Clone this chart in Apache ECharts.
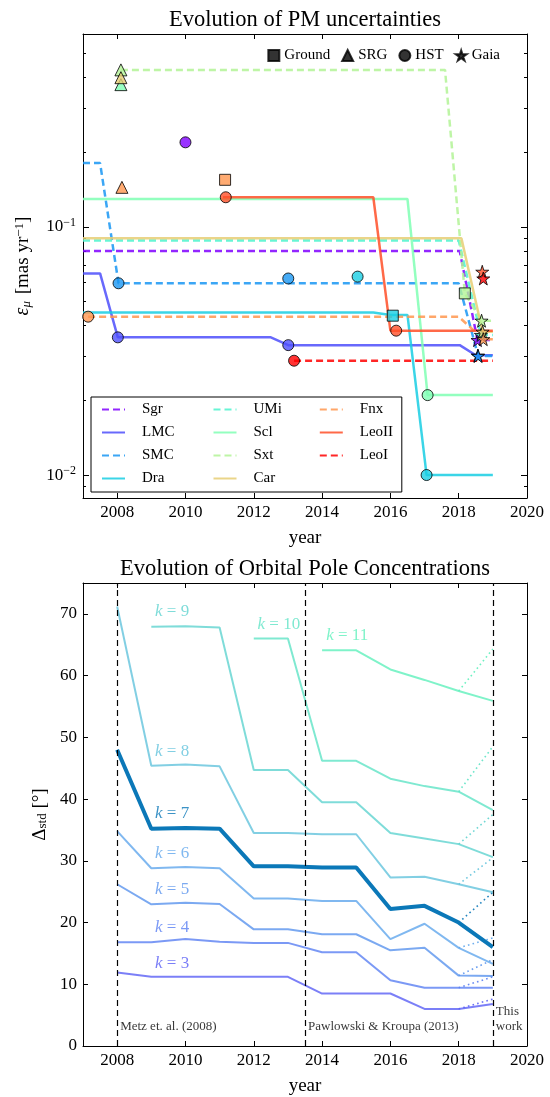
<!DOCTYPE html>
<html><head><meta charset="utf-8">
<script src="https://cdn.jsdelivr.net/npm/echarts@6/dist/echarts.min.js"></script>
<style>html,body{margin:0;padding:0;background:#fff}#c{width:550px;height:1097px}</style>
</head><body><div id="c"></div>
<script>
// ================= DATA: top panel (PM uncertainties, mas/yr) =================
const galaxies = ['Sgr','LMC','SMC','Dra','UMi','Scl','Sxt','Car','Fnx','LeoII','LeoI'];
// best-uncertainty history lines [year, eps]
const pmSgr   = [[2007,0.080],[2018.03,0.080],[2018.55,0.035],[2019,0.035]];
const pmLMC   = [[2007,0.065],[2007.5,0.065],[2008.02,0.0359],[2012.5,0.0359],[2013.01,0.0334],[2018.03,0.0334],[2018.5,0.0304],[2019,0.0304]];
const pmSMC   = [[2007,0.181],[2007.5,0.181],[2008.04,0.0593],[2018.0,0.0593],[2018.57,0.0302],[2019,0.0302]];
const pmDra   = [[2007,0.0452],[2015.5,0.0452],[2016.0,0.0442],[2016.5,0.0442],[2017.06,0.0100],[2019,0.0100]];
const pmUMi   = [[2007,0.0883],[2018.0,0.0883],[2018.65,0.0367],[2019,0.0367]];
const pmScl   = [[2007,0.1297],[2016.5,0.1297],[2017.09,0.0210],[2019,0.0210]];
const pmSxt   = [[2008.11,0.430],[2017.6,0.430],[2018.18,0.054],[2018.67,0.0419],[2019,0.0419]];
const pmCar   = [[2007,0.0900],[2018.08,0.0900],[2018.7,0.0378],[2019,0.0378]];
const pmFnx   = [[2007.15,0.0435],[2018.0,0.0435],[2018.72,0.0353],[2019,0.0353]];
const pmLeoII = [[2011.1,0.1318],[2015.5,0.1318],[2016.0,0.0382],[2019,0.0382]];
const pmLeoI  = [[2013.18,0.0289],[2019,0.0289]];
const pmLines = [pmSgr,pmLMC,pmSMC,pmDra,pmUMi,pmScl,pmSxt,pmCar,pmFnx,pmLeoII,pmLeoI];
const dashedGalaxy = ['Sgr','SMC','UMi','Sxt','Fnx','LeoI'];
// individual measurements [galaxy, year, eps]
const groundPts = [['Dra',2016.07,0.0439],['Sxt',2018.18,0.054],['Fnx',2011.16,0.155]];
const srgPts    = [['Scl',2008.11,0.375],['Sxt',2008.11,0.430],['Car',2008.11,0.400],['Fnx',2008.14,0.1445]];
const hstPts    = [['Sgr',2010.0,0.2195],['LMC',2008.02,0.0359],['LMC',2013.01,0.0334],['SMC',2008.04,0.0593],['SMC',2013.01,0.062],
                   ['Dra',2015.04,0.0631],['Dra',2017.06,0.0100],['Scl',2017.09,0.0210],['Fnx',2007.15,0.0435],
                   ['LeoII',2011.18,0.1318],['LeoII',2016.17,0.0382],['LeoI',2013.18,0.0289]];
const gaiaPts   = [['Sgr',2018.55,0.0350],['LMC',2018.56,0.0303],['SMC',2018.57,0.0302],['UMi',2018.65,0.0367],
                   ['Sxt',2018.67,0.0419],['Car',2018.70,0.0378],['Fnx',2018.72,0.0353],['LeoII',2018.69,0.066],['LeoI',2018.72,0.062]];
const yearTicks = [2008,2010,2012,2014,2016,2018,2020];
const logMajor = [0.01,0.1];
const logMinor = [0.009,0.02,0.03,0.04,0.05,0.06,0.07,0.08,0.09,0.2,0.3,0.4,0.5];

// ================= DATA: bottom panel (orbital pole concentration, deg) =================
const poleYears = [2008,2009,2010,2011,2012,2013,2014,2015,2016,2017,2018,2019];
const kValues = [3,4,5,6,7,8,9,10,11];
const deltaK3  = [11.9,11.2,11.2,11.2,11.2,11.2,8.5,8.5,8.5,6.0,6.0,6.8];
const deltaK4  = [16.8,16.8,17.35,16.9,16.7,16.7,15.2,15.2,10.65,9.45,9.45,9.45];
const deltaK5  = [26.2,22.95,23.2,23.0,18.9,18.9,18.1,18.1,15.5,15.9,11.4,11.35];
const deltaK6  = [34.8,28.8,29.0,28.8,23.9,23.9,23.5,23.5,17.3,19.8,15.9,13.3];
const deltaK7  = [48.0,35.2,35.3,35.2,29.1,29.1,28.9,28.9,22.2,22.7,20.0,16.0];
const deltaK8  = [71.2,45.4,45.6,45.3,34.5,34.5,34.3,34.3,27.3,27.4,26.2,24.9];
const deltaK9  = [null,67.9,68.0,67.8,44.7,44.7,39.5,39.5,34.5,33.6,32.7,30.6];
const deltaK10 = [null,null,null,null,66.0,66.0,46.2,46.2,43.3,42.1,41.2,38.2];
const deltaK11 = [null,null,null,null,null,null,64.1,64.1,61.0,59.3,57.5,55.9];
const deltaAll = [deltaK3,deltaK4,deltaK5,deltaK6,deltaK7,deltaK8,deltaK9,deltaK10,deltaK11];
const alt2019  = [7.6,11.2,14.0,17.5,24.9,30.5,37.5,48.5,64.3];
const refYears = [2008,2013.5,2019];
const refLabels = ['Metz et. al. (2008)','Pawlowski & Kroupa (2013)','This\nwork'];
const poleTicks = [0,10,20,30,40,50,60,70];

// ================= STYLE =================
const FONT = 'Liberation Serif';
const galaxyColors = {Sgr:'#8000ff',LMC:'#4d4ffc',SMC:'#1996f3',Dra:'#19cee3',UMi:'#4df3ce',Scl:'#80ffb4',
  Sxt:'#b3f396',Car:'#e6ce74',Fnx:'#ff964f',LeoII:'#ff4f28',LeoI:'#ff0000'};
const kColors = {3:'#5a5ff5',4:'#5a7ff2',5:'#5a94ee',6:'#60a6ec',7:'#0b78b8',8:'#63c3dc',9:'#5fd3cf',10:'#5fe3c5',11:'#5ff0bb'};
const kLabelPos = {3:[2009.11,13.4],4:[2009.11,19.2],5:[2009.11,25.3],6:[2009.11,31.1],7:[2009.11,37.6],8:[2009.11,47.7],9:[2009.11,70.3],10:[2012.11,68.3],11:[2014.12,66.5]};
const starPath = 'path://M50,0 L61.2,34.5 L97.6,34.5 L68.2,55.9 L79.4,90.5 L50,69.1 L20.6,90.5 L31.8,55.9 L2.4,34.5 L38.8,34.5 Z';

const black = '#000';
function xAx(grid, pos, opts) {
  return Object.assign({
    gridIndex: grid, type: 'value', position: pos, min: 2007, max: 2020,
    axisLine: {show: true, onZero: false, lineStyle: {color: black, width: 1}},
    axisTick: {show: true, inside: true, length: 5, customValues: yearTicks, lineStyle: {color: black}},
    axisLabel: {show: pos === 'bottom', customValues: yearTicks, margin: 6, fontFamily: FONT, fontSize: 17, color: black,
      formatter: v => String(v)},
    splitLine: {show: false}
  }, opts || {});
}
function logAx(pos, major, withLabel, opts) {
  return Object.assign({
    gridIndex: 0, type: 'log', logBase: 10, position: pos, min: 0.00808, max: 0.6,
    axisLine: {show: major, onZero: false, lineStyle: {color: black, width: 1}},
    axisTick: {show: true, inside: true, length: major ? 6 : 3, customValues: major ? logMajor : logMinor, lineStyle: {color: black}},
    axisLabel: {show: withLabel, customValues: logMajor, margin: 7,
      formatter: v => '{b|10}{s|−' + Math.round(-Math.log10(v)) + '}',
      rich: {b: {fontFamily: FONT, fontSize: 17, color: black}, s: {fontFamily: FONT, fontSize: 12, color: black, verticalAlign: 'top', padding: [0,0,8,0]}}},
    splitLine: {show: false}
  }, opts || {});
}
function linAx(pos, withLabel, opts) {
  return Object.assign({
    gridIndex: 1, type: 'value', position: pos, min: 0, max: 75,
    axisLine: {show: true, onZero: false, lineStyle: {color: black, width: 1}},
    axisTick: {show: true, inside: true, length: 5, customValues: poleTicks, lineStyle: {color: black}},
    axisLabel: {show: withLabel, customValues: poleTicks, margin: 6, fontFamily: FONT, fontSize: 17, color: black},
    splitLine: {show: false}
  }, opts || {});
}

const series = [];
// top: history lines
galaxies.forEach((g, i) => {
  const dashedLine = dashedGalaxy.indexOf(g) >= 0;
  series.push({
    type: 'line', name: g, xAxisIndex: 0, yAxisIndex: 0, data: pmLines[i],
    symbol: 'none', showSymbol: false, z: 2, silent: true,
    itemStyle: {color: galaxyColors[g]},
    lineStyle: {color: galaxyColors[g], width: 2.5, type: dashedLine ? [7, 4] : 'solid', opacity: 0.85}
  });
});
// top: measurement markers
function markerSeries(name, pts, symbol, size) {
  const order = p => galaxies.indexOf(p[0]);
  const sorted = pts.slice().sort((a, b) => order(a) - order(b));
  return {
    type: 'scatter', name: name, xAxisIndex: 0, yAxisIndex: 0, symbol: symbol, symbolSize: size, z: 5,
    itemStyle: {color: black, borderColor: black, borderWidth: 1},
    data: sorted.map(p => ({value: [p[1], p[2]], itemStyle: {color: galaxyColors[p[0]], borderColor: black, borderWidth: 1}}))
  };
}
series.push(markerSeries('Ground', groundPts, 'rect', 11));
series.push(markerSeries('SRG', srgPts, 'triangle', 12));
series.push(markerSeries('HST', hstPts, 'circle', 11));
series.push(markerSeries('Gaia', gaiaPts, starPath, 13));

// bottom: pole concentration lines
kValues.forEach((k, i) => {
  const vals = deltaAll[i];
  const pts = [];
  poleYears.forEach((y, j) => { if (vals[j] !== null) pts.push([y, vals[j]]); });
  series.push({
    type: 'line', name: 'k=' + k, xAxisIndex: 2, yAxisIndex: 4, data: pts, symbol: 'none', z: k === 7 ? 4 : 3, silent: true,
    lineStyle: {color: kColors[k], width: k === 7 ? 4 : 2, opacity: k === 7 ? 1 : 0.8}
  });
  series.push({
    type: 'line', name: 'k=' + k + ' alt', xAxisIndex: 2, yAxisIndex: 4, symbol: 'none', z: 3, silent: true,
    data: [[poleYears[10], vals[10]], [poleYears[11], alt2019[i]]],
    lineStyle: {color: kColors[k], width: 1.6, type: [1.6, 3.2], opacity: 0.9}
  });
});
// bottom: reference lines + annotations
series.push({
  type: 'line', name: 'refs', xAxisIndex: 2, yAxisIndex: 4, data: [], silent: true,
  markLine: {silent: true, symbol: ['none', 'none'], animation: false, label: {show: false},
    lineStyle: {color: black, type: [6, 4], width: 1.2},
    data: refYears.map(x => ({xAxis: x}))}
});
series.push({
  type: 'scatter', name: 'refText', xAxisIndex: 2, yAxisIndex: 4, symbolSize: 0, silent: true, z: 6,
  data: refYears.map((x, i) => ({value: [x, i === 2 ? 4.3 : 3.1], label: {formatter: refLabels[i]}})),
  label: {show: true, position: 'right', distance: 3, fontFamily: FONT, fontSize: 13, color: black, lineHeight: 15}
});
series.push({
  type: 'scatter', name: 'kText', xAxisIndex: 2, yAxisIndex: 4, symbolSize: 0, silent: true, z: 6,
  data: kValues.map(k => ({value: kLabelPos[k], label: {formatter: '{i|k} = ' + k, color: kColors[k],
      rich: {i: {fontFamily: FONT, fontStyle: 'italic', fontSize: 17, color: kColors[k]}}}})),
  label: {show: true, position: 'right', distance: 0, fontFamily: FONT, fontSize: 17}
});

const colW = {Sgr:62.5,LMC:62.5,SMC:62.5,Dra:62.5,UMi:57.3,Scl:57.3,Sxt:57.3,Car:57.3,Fnx:42,LeoII:42,LeoI:42};
const legendOrder = ['Sgr','UMi','Fnx','LMC','Scl','LeoII','SMC','Sxt','LeoI','Dra','Car'];

const option = {
  animation: false,
  backgroundColor: '#fff',
  textStyle: {fontFamily: FONT},
  grid: [
    {left: 83, right: 23, top: 34, height: 464},
    {left: 83, right: 23, top: 583, height: 465}
  ],
  xAxis: [
    xAx(0, 'bottom', {name: 'year', nameLocation: 'middle', nameGap: 31, nameTextStyle: {fontFamily: FONT, fontSize: 19, color: black}}),
    xAx(0, 'top', {name: 'Evolution of PM uncertainties', nameLocation: 'middle', nameGap: 2, nameTextStyle: {fontFamily: FONT, fontSize: 22.5, color: black}}),
    xAx(1, 'bottom', {name: 'year', nameLocation: 'middle', nameGap: 31, nameTextStyle: {fontFamily: FONT, fontSize: 19, color: black}}),
    xAx(1, 'top', {name: 'Evolution of Orbital Pole Concentrations', nameLocation: 'middle', nameGap: 2, nameTextStyle: {fontFamily: FONT, fontSize: 22.5, color: black}})
  ],
  yAxis: [
    logAx('left', true, true, {name: '{e|ε}{m|μ} [mas yr{p|−1}]', nameLocation: 'middle', nameRotate: 90, nameGap: 50,
      nameTextStyle: {fontFamily: FONT, fontSize: 19, color: black, rich: {
        e: {fontFamily: FONT, fontSize: 20, fontStyle: 'italic', color: black},
        m: {fontFamily: FONT, fontSize: 13, fontStyle: 'italic', color: black, verticalAlign: 'bottom', padding: [0,2,0,0]},
        p: {fontFamily: FONT, fontSize: 13, color: black, verticalAlign: 'top'}}}}),
    logAx('left', false, false),
    logAx('right', true, false),
    logAx('right', false, false),
    linAx('left', true, {name: 'Δ{s|std} [°]', nameLocation: 'middle', nameRotate: 90, nameGap: 32,
      nameTextStyle: {fontFamily: FONT, fontSize: 19, color: black, rich: {s: {fontFamily: FONT, fontSize: 13, color: black, verticalAlign: 'bottom'}}}}),
    linAx('right', false)
  ],
  legend: [
    {
      data: legendOrder.map(n => ({name: n, textStyle: {width: colW[n]}})),
      orient: 'horizontal', left: 91, top: 397, width: 330,
      padding: [5, 0, 6, 10], itemGap: 8, itemWidth: 23, itemHeight: 13,
      borderColor: black, borderWidth: 1, backgroundColor: '#fff', borderRadius: 0,
      selectedMode: false,
      itemStyle: {opacity: 0},
      textStyle: {fontFamily: FONT, fontSize: 15, color: black, lineHeight: 13, padding: [0, 0, 0, 12]}
    },
    {
      data: ['Ground', 'SRG', 'HST', 'Gaia'],
      orient: 'horizontal', right: 50, top: 48, padding: 0, itemGap: 11, itemWidth: 11, itemHeight: 11,
      selectedMode: false,
      textStyle: {fontFamily: FONT, fontSize: 15, color: black}
    }
  ],
  series: series
};

const chart = echarts.init(document.getElementById('c'), null, {renderer: 'canvas'});
chart.setOption(option);
</script>
</body></html>
